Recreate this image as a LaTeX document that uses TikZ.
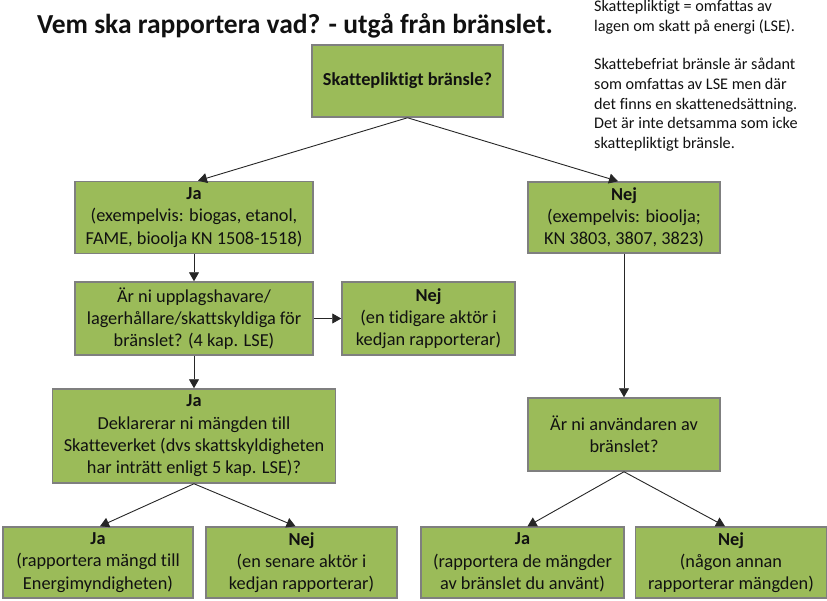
\documentclass[tikz,border=0pt]{standalone}
\usepackage{fontspec}
\setmainfont[Ligatures={NoCommon,NoContextual}]{Carlito}
\usetikzlibrary{arrows.meta}
\definecolor{boxgreen}{HTML}{9BBB59}
\definecolor{boxborder}{HTML}{7F7F7F}
\definecolor{txt}{HTML}{111111}
\begin{document}
\begin{tikzpicture}[x=1pt,y=-1pt,
  fbox/.style={draw=boxborder, line width=1.5pt, fill=boxgreen, inner sep=0pt,
    align=center, text=txt, font=\fontsize{18.3}{22.3}\selectfont},
  arr/.style={-{Triangle[length=9pt,width=10pt]}, line width=0.9pt, draw=black!85},
  note/.style={anchor=base west, inner sep=0pt, text=txt, font=\fontsize{16.2}{19.7}\selectfont}]
\useasboundingbox (0,0) rectangle (827,600);

% title
\node[anchor=base, inner sep=0pt, text=txt, font=\fontsize{27.5}{33}\selectfont\bfseries]
  (title) at (295,33) {Vem ska rapportera vad? - utgå från bränslet.};

% note
\node[note] (n1) at (594,11.7) {Skattepliktigt = omfattas av};
\node[note] (n2) at (594,31.7) {lagen om skatt på energi (LSE).};
\node[note] (n3) at (594,69) {Skattebefriat bränsle är sådant};
\node[note] (n4) at (594,89) {som omfattas av LSE men där};
\node[note] (n5) at (594,109) {det finns en skattenedsättning.};
\node[note] (n6) at (594,128.5) {Det är inte detsamma som icke};
\node[note] (n7) at (594,148) {skattepliktigt bränsle.};

% boxes
\node[fbox, minimum width=191pt, minimum height=72pt, font=\fontsize{18.3}{22.3}\selectfont\bfseries]
  (top) at (407.5,81) {Skattepliktigt bränsle?};
\node[fbox, minimum width=238pt, minimum height=72pt] (ja) at (194,217.5)
  {\textbf{Ja}\\(exempelvis: biogas, etanol,\\FAME, bioolja KN 1508-1518)};
\node[fbox, minimum width=192pt, minimum height=71pt] (nejtop) at (624,217.5)
  {\textbf{Nej}\\(exempelvis: bioolja;\\KN 3803, 3807, 3823)};
\node[fbox, minimum width=238pt, minimum height=73pt] (arni) at (194,318.5)
  {Är ni upplagshavare/\\lagerhållare/skattskyldiga för\\bränslet? (4 kap. LSE)};
\node[fbox, minimum width=173pt, minimum height=73pt] (nejmid) at (428.5,318.5)
  {\textbf{Nej}\\(en tidigare aktör i\\kedjan rapporterar)};
\node[fbox, minimum width=283pt, minimum height=94pt] (dekl) at (194,436)
  {\textbf{Ja}\\Deklarerar ni mängden till\\Skatteverket (dvs skattskyldigheten\\har inträtt enligt 5 kap. LSE)?};
\node[fbox, minimum width=190pt, minimum height=71pt] (bja) at (98,562.5)
  {\textbf{Ja}\\(rapportera mängd till\\Energimyndigheten)};
\node[fbox, minimum width=191pt, minimum height=71pt] (bnej) at (301.5,562.5)
  {\textbf{Nej}\\(en senare aktör i\\kedjan rapporterar)};
\node[fbox, minimum width=192pt, minimum height=73pt] (anv) at (624,434.5)
  {Är ni användaren av\\bränslet?};
\node[fbox, minimum width=203pt, minimum height=71pt] (rja) at (522.5,562.5)
  {\textbf{Ja}\\(rapportera de mängder\\av bränslet du använt)};
\node[fbox, minimum width=191pt, minimum height=71pt] (rnej) at (731,562.5)
  {\textbf{Nej}\\(någon annan\\rapporterar mängden)};

% connectors
\draw[arr] (top.south) -- ([xshift=4pt]ja.north);
\draw[arr] (top.south) -- ([xshift=-6pt]nejtop.north);
\draw[arr] (ja.south) -- (arni.north);
\draw[arr] (arni.east) -- (nejmid.west);
\draw[arr] (arni.south) -- (dekl.north);
\draw[arr] (dekl.south) -- ([xshift=2pt]bja.north);
\draw[arr] (dekl.south) -- ([xshift=-6pt]bnej.north);
\draw[arr] (nejtop.south) -- (anv.north);
\draw[arr] (anv.south) -- ([xshift=5pt]rja.north);
\draw[arr] (anv.south) -- ([xshift=-6pt]rnej.north);
\end{tikzpicture}
\end{document}
